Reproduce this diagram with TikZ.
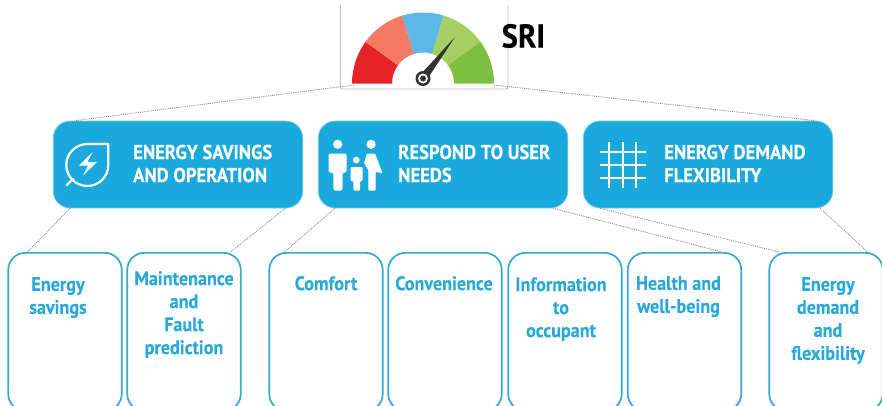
\documentclass[tikz,border=0pt]{standalone}
\usepackage{fontspec}
\setmainfont{PT Sans}
\newfontfamily\narrowfont[FakeStretch=0.93,FakeBold=0.25]{PT Sans}
\usetikzlibrary{positioning}
\definecolor{sriblue}{HTML}{1AA9DC}
\definecolor{boxline}{HTML}{34A9D4}
\definecolor{boxtext}{HTML}{29A9DA}
\definecolor{dotline}{HTML}{8C8C8C}
\definecolor{needle}{HTML}{333333}
\definecolor{gaugeA}{HTML}{E62428}
\definecolor{gaugeB}{HTML}{F47A66}
\definecolor{gaugeC}{HTML}{5DB8E8}
\definecolor{gaugeD}{HTML}{A5CF63}
\definecolor{gaugeE}{HTML}{7DC03F}

\begin{document}
\begin{tikzpicture}[x=1pt, y=-1pt,
    pillar/.style = {shape=rectangle, rounded corners=17pt, fill=sriblue, draw=sriblue!60!white, line width=0.7pt, minimum width=249.5pt, minimum height=87pt},
    pillartext/.style = {anchor=west, align=left, text=white, inner sep=0pt, font=\narrowfont\fontsize{20}{23}\selectfont\bfseries},
    subbox/.style = {shape=rectangle, rounded corners=17pt, draw=boxline, line width=1.7pt, minimum width=113.5pt, minimum height=158pt, anchor=north},
    subtext/.style = {anchor=north, align=center, text=boxtext, inner sep=0pt, font=\narrowfont\fontsize{19.5}{23}\selectfont\bfseries},
    link/.style = {draw=dotline, densely dotted, line width=0.9pt},
    icon/.style = {draw=white, line width=2.2pt, fill=none}]
  \clip (0,0) rectangle (882,405);

  % gauge
  \draw[black!25, line width=0.9pt, rounded corners=2pt] (340.5,5) -- (340.5,89) -- (508,89) -- (508,5);
  \begin{scope}[shift={(423,83.5)}, y=1pt]
    \foreach \from/\to/\col in {180/144/gaugeA, 144/107/gaugeB, 107/73/gaugeC, 73/36/gaugeD, 36/0/gaugeE}
      \fill[\col] (\from:71) arc[start angle=\from, end angle=\to, radius=71pt] -- (\to:31) arc[start angle=\to, end angle=\from, radius=31pt] -- cycle;
  \end{scope}
  \coordinate (gaugeL) at (354,85);
  \coordinate (gaugeR) at (494,85);
  \fill[needle] (420,75) -- (455,37) -- (426,81) -- cycle;
  \fill[needle] (423,78.5) circle[radius=7.5pt];
  \fill[white] (423,78.5) circle[radius=5pt];
  \fill[needle] (423,78.5) circle[radius=3pt];
  \node (sri) [anchor=west, inner sep=0pt, font=\narrowfont\fontsize{33}{33}\selectfont\bfseries] at (501.5,36) {SRI};

  % three pillars
  \node (savings) [pillar] at (178,164.5) {};
  \node (needs) [pillar] at (443,164.5) {};
  \node (demand) [pillar] at (708,164.5) {};
  \node (savingsT) [pillartext] at (133,163.5) {ENERGY SAVINGS\\AND OPERATION};
  \node (needsT) [pillartext] at (398,163.5) {RESPOND TO USER\\NEEDS};
  \node (demandT) [pillartext] at (664,163.5) {ENERGY DEMAND\\FLEXIBILITY};

  % leaf
  \draw[icon, line join=round] (108.3,144) -- (108.3,165) arc[start angle=0, end angle=-270, radius=21pt] -- cycle;
  \draw[icon, line cap=round] (73,179) -- (66.7,185);
  \fill[white, line join=round] (92.5,152) -- (79,165.5) -- (88,165.5) -- (83,175.5) -- (97,162) -- (87.5,162) -- cycle;

  % family
  \fill[white] (337.7,144.3) circle[radius=4.6pt] (371,144.3) circle[radius=4.6pt] (356.3,160) circle[radius=3.3pt];
  \fill[white, rounded corners=1.5pt] (328.5,153.5) -- (346.7,153.5) -- (346.7,172.5) -- (342.7,172.5) -- (342.7,190.5) -- (333.3,190.5) -- (333.3,172.5) -- (328.5,172.5) -- cycle;
  \fill[white, rounded corners=1pt] (350.7,167) -- (362.7,167) -- (362.7,181) -- (360,181) -- (360,190.5) -- (353.3,190.5) -- (353.3,181) -- (350.7,181) -- cycle;
  \fill[white, rounded corners=1pt] (367,153.5) -- (375,153.5) -- (382.7,173.5) -- (375.7,171.7) -- (375.7,190.5) -- (368.3,190.5) -- (368.3,170) -- (364,163) -- cycle;

  % grid
  \foreach \gx in {609.3,622.7,636}
    \draw[icon] (\gx,142.3) -- (\gx,187.7);
  \foreach \gy in {151.7,165,178.3}
    \draw[icon] (600,\gy) -- (646,\gy);

  % seven lower boxes
  \node (bSavings) [subbox] at (65,252) {};
  \node (bFault) [subbox] at (184,252) {};
  \node (bComfort) [subbox] at (326,252) {};
  \node (bConv) [subbox] at (445,252) {};
  \node (bInfo) [subbox] at (565,252) {};
  \node (bHealth) [subbox] at (684.5,252) {};
  \node (bFlex) [subbox] at (826,252) {};
  \node (bSavingsT) [subtext, below=25pt of bSavings.north, xshift=-7pt] {Energy\\savings};
  \node (bFaultT) [subtext, below=19pt of bFault.north] {Maintenance\\and\\Fault\\prediction};
  \node (bComfortT) [subtext, below=24pt of bComfort.north] {Comfort};
  \node (bConvT) [subtext, below=24pt of bConv.north, xshift=-1pt] {Convenience};
  \node (bInfoT) [subtext, below=25pt of bInfo.north, xshift=-4pt] {Information\\to\\occupant};
  \node (bHealthT) [subtext, below=24pt of bHealth.north, xshift=-6pt] {Health and\\well-being};
  \node (bFlexT) [subtext, below=25pt of bFlex.north, xshift=2pt] {Energy\\demand\\and\\flexibility};

  % dotted links
  \draw[link] (gaugeL) -- ([xshift=22pt]savings.north west);
  \draw[link] (gaugeR) -- ([xshift=-18pt]demand.north east);
  \draw[link] ([xshift=17pt]savings.south west) -- ([xshift=20pt]bSavings.north west);
  \draw[link] ([xshift=-18pt]savings.south east) -- ([xshift=-11pt]bFault.north east);
  \draw[link] ([xshift=17pt]needs.south west) -- ([xshift=16pt]bComfort.north west);
  \draw[link] ([xshift=-15pt]needs.south east) -- ([xshift=-20pt]bHealth.north east);
  \draw[link] ([xshift=17pt]demand.south west) -- ([xshift=11pt]bFlex.north west);
  \draw[link] ([xshift=-13pt]demand.south east) -- ([xshift=-16pt]bFlex.north east);
\end{tikzpicture}
\end{document}
